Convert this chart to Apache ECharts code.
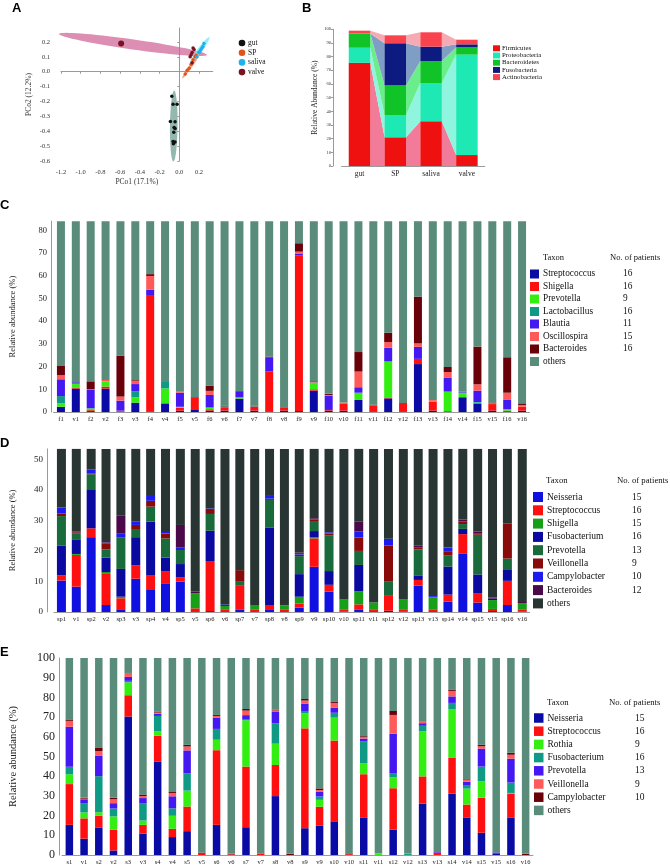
<!DOCTYPE html>
<html>
<head>
<meta charset="utf-8">
<script src="https://cdn.jsdelivr.net/npm/echarts@6/dist/echarts.min.js"></script>
<style>
html,body{margin:0;padding:0;background:#fff}
#main{width:670px;height:866px}
</style>
</head>
<body>
<div id="main"></div>
<script>
// ---------- A : PCoA ----------
var gutX = [-0.076, -0.063, -0.022, -0.09, -0.043, -0.053, -0.043, -0.056, -0.063, -0.043, -0.06];
var gutY = [-0.164, -0.218, -0.218, -0.335, -0.337, -0.375, -0.382, -0.406, -0.469, -0.473, -0.484];
var spX = [0.06, 0.08, 0.1, 0.12, 0.14, 0.16, 0.17, 0.2];
var spY = [-0.015, 0.01, 0.023, 0.05, 0.08, 0.1, 0.11, 0.13];
var salivaX = [0.18, 0.2, 0.21, 0.22, 0.23, 0.24, 0.25];
var salivaY = [0.1, 0.13, 0.14, 0.15, 0.16, 0.17, 0.19];
var valveX = [-0.59, 0.14, 0.13, 0.12, 0.15, 0.11, 0.13];
var valveY = [0.19, 0.16, 0.13, 0.115, 0.15, 0.1, 0.06];
// ellipse major axis end points [x1, y1, x2, y2]
var valveEllipse = [-1.22, 0.254, 0.28, 0.113];
var gutEllipse = [-0.052, -0.127, -0.06, -0.603];
var spEllipse = [0.031, -0.044, 0.211, 0.128];
var salivaEllipse = [0.109, 0.057, 0.305, 0.232];
var pcoaGroups = ['gut', 'SP', 'saliva', 'valve'];

// ---------- B : phyla ----------
var bGroups = ['gut', 'SP', 'saliva', 'valve'];
var bTaxa = ['Firmicutes', 'Proteobacteria', 'Bacteroidetes', 'Fusobacteria', 'Actinobacteria'];
var bFirmicutes = [75.5, 21, 32.7, 8];
var bProteobacteria = [11, 16.3, 28, 73.5];
var bBacteroidetes = [10.5, 21.5, 16.1, 5.3];
var bFusobacteria = [0, 31, 10.5, 2.2];
var bActinobacteria = [2, 5.8, 10.5, 3.4];

// ---------- C : gut vs valve ----------
var cCats = ['f1','v1','f2','v2','f3','v3','f4','v4','f5','v5','f6','v6','f7','v7','f8','v8',
             'f9','v9','f10','v10','f11','v11','f12','v12','f13','v13','f14','v14','f15','v15','f16','v16'];
var cTaxa = ['Streptococcus','Shigella','Prevotella','Lactobacillus','Blautia','Oscillospira','Bacteroides'];
var cPatients = [16, 16, 9, 16, 11, 15, 16];
var cStreptococcus = [2.3,10.3,0.4,10.3,0.2,4.1,0.3,3.8,0.6,1.2,0.6,0.6,5.9,0.6,0.3,0.6,0.4,9.4,0.6,0.6,5.3,0.3,6.0,0.3,21.1,0.6,0.3,6.5,3.8,0.6,0.3,0.6];
var cShigella = [0,0.3,0.4,0.9,0.4,0,51.2,0,1.3,5.0,0.6,1.5,0,1.8,17.5,1.5,68.6,0.6,0.3,3.2,0,2.4,0.4,3.7,2.3,3.8,0,0,0,2.9,0.3,1.7];
var cPrevotella = [1.5,1.7,0.7,2.3,0,2.4,0,6.6,0.4,0,0.6,0,0.4,0,0,0,0,2.6,0,0,3.2,0,15.7,0,0,0.5,8.7,1.7,0.3,0.3,0.6,0];
var cLactobacillus = [3.2,0.4,0.2,0,0,2.6,0,2.8,0,0,0.3,0.4,0.3,0.2,0,0,0,0.4,0,0,0,0.3,0.3,0,0,0,0,0.4,0.3,0,0,0];
var cBlautia = [7.4,0.4,8.1,0,4.4,3.2,2.4,0,6.2,0,5.4,0,2.3,0,6.3,0,0.8,0,6.2,0,2.4,0,5.9,0,5.3,0,6.0,0.4,5.0,0,4.1,0];
var cOscillospira = [1.8,0,0.2,0.6,1.8,1.5,6.0,0,0.4,0,1.8,0,0,0,0,0,0.8,0.4,0.4,0.4,6.9,0,2.5,0,1.5,0.4,2.6,0,2.8,0,3.2,0.8];
var cBacteroides = [4.1,0,3.5,0,18,0.3,0.8,0,0,0.3,2.3,0.3,0.3,0.2,0.3,0,3.7,0.3,0.5,0,8.6,0.2,4.1,0,20.6,0,2.2,0,16.6,0.4,15.6,0.7];

// ---------- D : SP vs valve ----------
var dCats = ['sp1','v1','sp2','v2','sp3','v3','sp4','v4','sp5','v5','sp6','v6','sp7','v7','sp8','v8',
             'sp9','v9','sp10','v10','sp11','v11','sp12','v12','sp13','v13','sp14','v14','sp15','v15','sp16','v16'];
var dTaxa = ['Neisseria','Streptococcus','Shigella','Fusobacterium','Prevotella','Veillonella','Campylobacter','Bacteroides'];
var dPatients = [15, 16, 15, 16, 13, 9, 10, 12];
var dNeisseria = [10.3,8.3,24.5,2.3,0.9,10.9,7.2,9.4,9.9,0,0.3,0,0.7,0,0.9,0,1.4,14.8,6.7,0.2,0.7,0,0.4,0.2,8.6,0,3.4,19.2,3.1,0.3,2.3,0.2];
var dStreptococcus = [1.7,10.4,2.9,10.4,3.6,4.4,4.9,4.0,1.4,1.2,16.4,0.7,8.1,0.9,1.4,0.7,1.4,9.3,2.2,0.5,1.8,0.7,4.9,0.5,1.9,0.9,2.3,6.3,3.1,0.7,7.9,0.7];
var dShigella = [0,0.3,0,0.4,0.5,0,0,0,0,4.9,0,1.3,0,1.4,0,1.4,2.2,0.3,0,3.5,4.3,2.4,0,3.5,0,3.9,0,0,0,2.9,0,2.0];
var dFusobacterium = [9.8,4.6,12.8,4.7,9.1,9.2,17.5,4.4,4.4,0,9.9,0.5,0,0,25.4,0,7.4,2.1,4.5,0,8.6,0,0.2,0,1.5,0,9.2,1.7,6.1,0.5,3.8,0];
var dPrevotella = [9.6,2.2,4.9,2.7,10.4,2.4,4.9,6.3,4.6,0,5.5,0,1.1,0,9.0,0,5.9,3.3,11.6,0,4.6,0,4.6,0,8.5,0,3.7,1.6,13.0,0,3.5,0];
var dVeillonella = [0.9,0.3,0.3,2.0,0,1.6,1.9,1.6,0,0,1.3,0,3.8,0,0.4,0,0.5,0.5,0.7,0,4.4,0,11.7,0,0.7,0,1.1,0.8,0.5,0,11.4,0];
var dCampylobacter = [1.9,0,1.3,0.2,1.3,1.2,1.9,0.5,0.9,0,0.5,0,0,0,0.9,0,0.5,0,0.4,0,2.0,0,2.2,0,0,0.4,1.4,0,0,0,0,0];
var dBacteroides = [0,0.3,0,0.2,5.7,0,0,0,7.3,0.5,0,0,0,0,0,0,0.2,0.4,0,0,3.3,0,0,0,0.6,0,0,0.7,0.5,0.4,0.2,0.4];

// ---------- E : saliva vs valve ----------
var eCats = ['s1','v1','s2','v2','s3','v3','s4','v4','s5','v5','s6','v6','s7','v7','s8','v8',
             's9','v9','s10','v10','s11','v11','s12','v12','s13','v13','s14','v14','s15','v15','s16','v16'];
var eTaxa = ['Neisseria','Streptococcus','Rothia','Fusobacterium','Prevotella','Veillonella','Campylobacter'];
var ePatients = [15, 16, 9, 16, 13, 9, 10];
var eNeisseria = [15.3,8.3,14.0,2.3,70.3,10.8,47.3,9.1,12.1,0,15.3,0,14.1,0,29.9,0,13.6,15.0,17.1,0,19.1,0,12.8,0,26.1,0,31.1,19.1,11.3,0.5,19.1,0];
var eStreptococcus = [20.7,10.3,6.0,10.5,10.8,4.5,13.3,4.2,12.5,1.2,37.9,0.3,30.8,0.8,15.8,0,50.7,9.5,41.0,0.4,21.9,0,21.1,0,13.8,1.2,18.4,6.5,17.8,0.5,12.1,0];
var eRothia = [5.0,3.0,1.7,6.8,6.5,2.2,2.2,6.6,8.1,0,5.3,0,23.5,0,10.8,0,7.6,3.5,11.6,0,5.5,0.7,5.5,0,22.9,0,24.4,8.1,8.3,0,0.3,0];
var eFusobacterium = [3.8,4.5,18.3,4.0,0.8,8.6,7.8,3.8,8.8,0,5.5,0,0.3,0,10.3,0,1.2,1.7,2.5,0,11.1,0,2.2,0.7,2.8,0,3.3,1.5,7.5,0,5.3,0];
var ePrevotella = [20.3,2.2,10.3,2.7,2.0,2.8,1.2,6.1,11.6,0,5.8,0,2.3,0,5.8,0,3.8,2.5,2.5,0,1.5,0,19.9,0,1.3,0.3,3.3,2.0,9.1,0.3,12.1,0];
var eVeillonella = [3.0,0.3,2.5,2.0,2.0,1.0,0.5,1.7,2.0,0,0.8,0,2.3,0,0.8,0,1.5,0.8,2.5,0,0.7,0,9.6,0,0.7,0,2.8,1.0,1.2,0,2.0,0];
var eCampylobacter = [0.7,0.4,1.8,0.7,0,0.8,0.5,0.5,0.8,0,0.5,0.4,0.8,0,0.4,0.7,0.8,0.8,0.5,0.4,0.5,0,2.0,0,0,0,0.7,0.3,0.8,0,1.0,0.7];

var TOTAL = 100;

// ---------- styles ----------
var SERIF = 'Liberation Serif';
var AX = '#9a9a9a';
var pcoaColors = ['#111111', '#e2521c', '#1cb2ea', '#7a1222'];
var ellipseColors = ['rgba(110,160,150,0.75)', 'rgba(240,120,80,0.7)', 'rgba(120,235,245,0.8)', 'rgba(205,95,145,0.7)'];
var bColors = ['#ef1010', '#1ee8b4', '#10c428', '#0d1a7f', '#f94450'];
var bFlowColors = ['#f17b98', '#8ff5de', '#6aee8c', '#7f9ec6', '#f6aab4'];
var cColors = ['#0a0aa5', '#ff1010', '#33ee11', '#0f9a85', '#4418f0', '#ff5a5a', '#6a0008', '#5a8c7b'];
var dColors = ['#1010e0', '#ff1010', '#17a017', '#0a0aa0', '#196b3c', '#880a0a', '#1c1cee', '#4a0a4a', '#283532'];
var eColors = ['#0a0aa5', '#ff1010', '#33ee11', '#0f9a85', '#4418f0', '#ff5a5a', '#6a0008', '#5a8c7b'];

var chart = echarts.init(document.getElementById('main'), null, {renderer: 'canvas'});

function pairs(xs, ys) { return xs.map(function (x, i) { return [x, ys[i]]; }); }
function remainder(list) {
  return list[0].map(function (_, i) {
    var s = 0; list.forEach(function (a) { s += a[i]; });
    return +(TOTAL - s).toFixed(2);
  });
}

function ellipseRender(hw) {
  return function (params, api) {
    var p1 = api.coord([api.value(0), api.value(1)]);
    var p2 = api.coord([api.value(2), api.value(3)]);
    var cx = (p1[0] + p2[0]) / 2, cy = (p1[1] + p2[1]) / 2;
    var dx = (p2[0] - p1[0]) / 2, dy = (p2[1] - p1[1]) / 2;
    var len = Math.sqrt(dx * dx + dy * dy);
    var nx = -dy / len * hw, ny = dx / len * hw;
    var pts = [];
    for (var t = 0; t < 72; t++) {
      var a = t / 72 * Math.PI * 2;
      pts.push([cx + dx * Math.cos(a) + nx * Math.sin(a), cy + dy * Math.cos(a) + ny * Math.sin(a)]);
    }
    return {type: 'polygon', shape: {points: pts}, style: {fill: api.visual('color')}};
  };
}

// B cumulative bases
var bVals = [bFirmicutes, bProteobacteria, bBacteroidetes, bFusobacteria, bActinobacteria];
var bBase = bVals.map(function (_, k) {
  return bGroups.map(function (_, i) {
    var s = 0; for (var m = 0; m < k; m++) s += bVals[m][i]; return s;
  });
});
var bBarW = 21.5;
var flowData = [];
for (var i = 0; i < bGroups.length - 1; i++) for (var k = 0; k < bTaxa.length; k++) flowData.push([i, k]);

function flowRender(params, api) {
  var i = api.value(0), k = api.value(1), hw = bBarW / 2;
  var a0 = api.coord([i, bBase[k][i]]), a1 = api.coord([i, bBase[k][i] + bVals[k][i]]);
  var b0 = api.coord([i + 1, bBase[k][i + 1]]), b1 = api.coord([i + 1, bBase[k][i + 1] + bVals[k][i + 1]]);
  return {
    type: 'polygon',
    shape: {points: [[a0[0] + hw, a0[1]], [a1[0] + hw, a1[1]], [b1[0] - hw, b1[1]], [b0[0] - hw, b0[1]]]},
    style: {fill: bFlowColors[k]}
  };
}

var series = [];
// A
series.push({type: 'custom', xAxisIndex: 0, yAxisIndex: 0, renderItem: ellipseRender(5), data: [valveEllipse], itemStyle: {color: ellipseColors[3]}, z: 1});
series.push({type: 'custom', xAxisIndex: 0, yAxisIndex: 0, renderItem: ellipseRender(3.8), data: [gutEllipse], itemStyle: {color: ellipseColors[0]}, z: 1});
series.push({type: 'custom', xAxisIndex: 0, yAxisIndex: 0, renderItem: ellipseRender(1.6), data: [spEllipse], itemStyle: {color: ellipseColors[1]}, z: 1});
series.push({type: 'custom', xAxisIndex: 0, yAxisIndex: 0, renderItem: ellipseRender(2.4), data: [salivaEllipse], itemStyle: {color: ellipseColors[2]}, z: 1});
[[gutX, gutY], [spX, spY], [salivaX, salivaY], [valveX, valveY]].forEach(function (g, j) {
  series.push({
    type: 'scatter', xAxisIndex: 0, yAxisIndex: 0, name: pcoaGroups[j], data: pairs(g[0], g[1]),
    symbolSize: function (v) { return v[0] < -0.3 ? 6 : 3.5; },
    itemStyle: {color: pcoaColors[j], opacity: 1}, z: 3
  });
});
// B
series.push({type: 'custom', xAxisIndex: 1, yAxisIndex: 1, renderItem: flowRender, data: flowData, z: 1, silent: true});
bTaxa.forEach(function (t, k) {
  series.push({type: 'bar', xAxisIndex: 1, yAxisIndex: 1, stack: 'b', name: t, data: bVals[k],
    barWidth: bBarW, itemStyle: {color: bColors[k]}, z: 2});
});
// C, D, E stacked bars
function addStack(ax, taxa, vals, colors, bw) {
  vals.forEach(function (v, k) {
    series.push({type: 'bar', xAxisIndex: ax, yAxisIndex: ax, stack: 's' + ax, name: taxa[k], data: v,
      barWidth: bw, itemStyle: {color: colors[k]}, clip: true});
  });
  series.push({type: 'bar', xAxisIndex: ax, yAxisIndex: ax, stack: 's' + ax, name: 'others', data: remainder(vals),
    barWidth: bw, itemStyle: {color: colors[vals.length]}, clip: true});
}
addStack(2, cTaxa, [cStreptococcus, cShigella, cPrevotella, cLactobacillus, cBlautia, cOscillospira, cBacteroides], cColors, 8);
addStack(3, dTaxa, [dNeisseria, dStreptococcus, dShigella, dFusobacterium, dPrevotella, dVeillonella, dCampylobacter, dBacteroides], dColors, 9);
addStack(4, eTaxa, [eNeisseria, eStreptococcus, eRothia, eFusobacterium, ePrevotella, eVeillonella, eCampylobacter], eColors, 7.5);

// ---------- axes ----------
function catAxis(gi, cats, fs) {
  return {gridIndex: gi, type: 'category', data: cats,
    axisLine: {lineStyle: {color: AX}}, axisTick: {show: false},
    axisLabel: {interval: 0, fontSize: fs, fontFamily: SERIF, color: '#222', margin: 4}};
}
function valAxis(gi, max, fs, off, name, nfs, ngap) {
  return {gridIndex: gi, type: 'value', min: 0, max: max, interval: 10, offset: off,
    splitLine: {show: false}, axisLine: {show: true, lineStyle: {color: AX}},
    axisTick: {show: false},
    axisLabel: {fontSize: fs, fontFamily: SERIF, color: '#222', showMaxLabel: max % 10 === 0, margin: 4},
    name: name, nameLocation: 'middle', nameGap: ngap,
    nameTextStyle: {fontFamily: SERIF, fontSize: nfs, color: '#222'}};
}

var option = {
  backgroundColor: '#fff',
  animation: false,
  grid: [
    {left: 61, top: 28, width: 151.8, height: 133},
    {left: 341.6, top: 29.3, width: 143.2, height: 136.7},
    {left: 51.5, top: 221.2, width: 478, height: 190.8},
    {left: 47.8, top: 448.9, width: 481.9, height: 163.1},
    {left: 54.5, top: 658, width: 478.5, height: 200}
  ],
  xAxis: [
    {gridIndex: 0, type: 'value', min: -1.2, max: 0.34, interval: 0.2, offset: 5,
      splitLine: {show: false}, axisLine: {lineStyle: {color: AX}},
      axisTick: {show: true, length: 2, lineStyle: {color: AX}},
      axisLabel: {fontSize: 6.5, fontFamily: SERIF, color: '#333', showMaxLabel: false, margin: 3,
        formatter: function (v) { return v.toFixed(1); }},
      name: 'PCo1 (17.1%)', nameLocation: 'middle', nameGap: 12,
      nameTextStyle: {fontFamily: SERIF, fontSize: 7.5, color: '#333'}},
    {gridIndex: 1, type: 'category', data: bGroups,
      axisLine: {lineStyle: {color: AX}}, axisTick: {show: false},
      axisLabel: {fontSize: 7.5, fontFamily: SERIF, color: '#222', margin: 4}},
    catAxis(2, cCats, 6.5),
    catAxis(3, dCats, 6.5),
    catAxis(4, eCats, 6.5)
  ],
  yAxis: [
    {gridIndex: 0, type: 'value', min: -0.6, max: 0.294, interval: 0.1, offset: 8,
      splitLine: {show: false}, axisLine: {show: true, lineStyle: {color: AX}},
      axisTick: {show: true, length: 2, lineStyle: {color: AX}},
      axisLabel: {fontSize: 6.5, fontFamily: SERIF, color: '#333', showMaxLabel: false, margin: 3,
        formatter: function (v) { return v.toFixed(1); }},
      name: 'PCo2 (12.2%)', nameLocation: 'middle', nameGap: 20,
      nameTextStyle: {fontFamily: SERIF, fontSize: 7.5, color: '#333'}},
    {gridIndex: 1, type: 'value', min: 0, max: 100, interval: 10, offset: 8.6,
      splitLine: {show: false}, axisLine: {show: true, lineStyle: {color: AX}},
      axisTick: {show: true, length: 2, lineStyle: {color: AX}},
      axisLabel: {fontSize: 4.5, fontFamily: SERIF, color: '#333', margin: 2},
      name: 'Relative Abundance (%)', nameLocation: 'middle', nameGap: 14,
      nameTextStyle: {fontFamily: SERIF, fontSize: 7.5, color: '#222'}},
    valAxis(2, 84, 8.5, 2.5, 'Relative abundance (%)', 8.5, 34),
    valAxis(3, 53.4, 9, 7, 'Relative abundance (%)', 8.5, 30),
    valAxis(4, 100, 12, 3, 'Relative abundance (%)', 10.5, 40)
  ],
  series: series,
  graphic: []
};

// ---------- panel letters, legends ----------
var g = option.graphic;
[['A', 12, 2], ['B', 302, 2], ['C', 0, 199], ['D', 0, 437], ['E', 0, 646]].forEach(function (l) {
  g.push({type: 'text', x: l[1], y: l[2], style: {text: l[0], font: 'bold 13px "Liberation Sans"', fill: '#000'}});
});
function txt(s, x, y, fs, align) {
  g.push({type: 'text', x: x, y: y, style: {text: s, font: fs + 'px "' + SERIF + '"', fill: '#111',
    textAlign: align || 'left', textVerticalAlign: 'middle'}});
}
// A legend
pcoaGroups.forEach(function (n, j) {
  var y = 43 + 9.7 * j;
  g.push({type: 'circle', shape: {cx: 242, cy: y, r: 3.3}, style: {fill: pcoaColors[j]}});
  txt(n, 248, y, 7.5);
});
// B legend
bTaxa.forEach(function (n, j) {
  var y = 48.3 + 7.2 * j;
  g.push({type: 'rect', shape: {x: 493, y: y - 3, width: 7, height: 6}, style: {fill: bColors[j]}});
  txt(n, 502, y, 6.8);
});
function tableLegend(taxa, counts, colors, bx, y0, dy, box, fs, hy, nx, tx) {
  txt('Taxon', bx + 13, hy, fs - 0.8);
  txt('No. of patients', nx, hy, fs - 0.8);
  taxa.concat(['others']).forEach(function (n, j) {
    var y = y0 + dy * j;
    g.push({type: 'rect', shape: {x: bx, y: y - box / 2, width: box, height: box}, style: {fill: colors[j]}});
    txt(n, bx + box + 4, y, fs);
    if (j < counts.length) txt(String(counts[j]), tx, y, fs);
  });
}
tableLegend(cTaxa, cPatients, cColors, 530, 274, 12.5, 9, 9.3, 258, 610, 623);
tableLegend(dTaxa, dPatients, dColors, 533, 497, 13.3, 10, 9.5, 481, 617, 632);
tableLegend(eTaxa, ePatients, eColors, 534, 718, 13.2, 9.5, 9.5, 703, 609, 635);

chart.setOption(option);
</script>
</body>
</html>
